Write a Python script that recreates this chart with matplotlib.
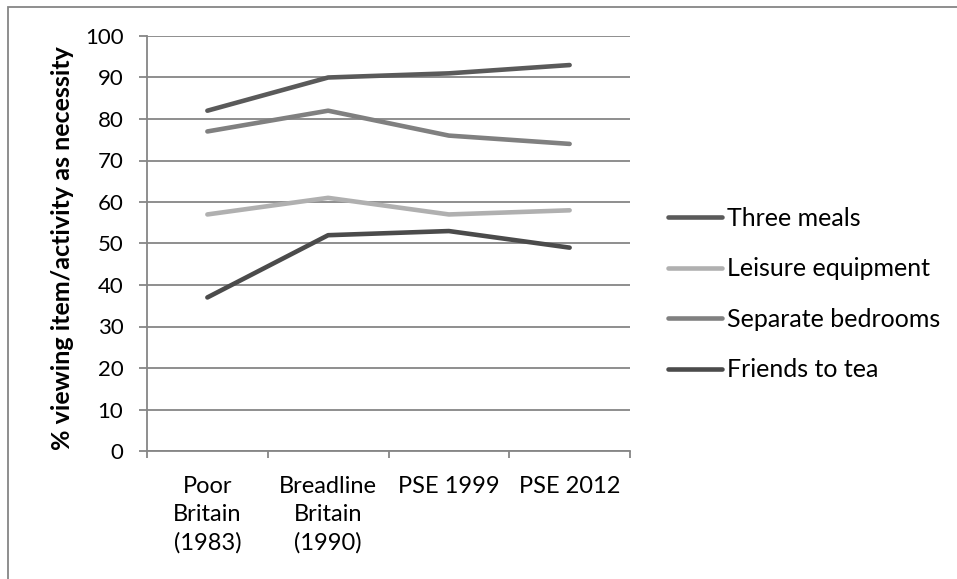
import matplotlib
matplotlib.use("Agg")
import matplotlib.pyplot as plt
from matplotlib.patches import Rectangle

plt.rcParams['font.family'] = ['Lato', 'DejaVu Sans']

# datos
categorias = ["Poor\nBritain\n(1983)", "Breadline\nBritain\n(1990)", "PSE 1999", "PSE 2012"]
tres_comidas = [82, 90, 91, 93]
ocio = [57, 61, 57, 58]
dormitorios = [77, 82, 76, 74]
amigos = [37, 52, 53, 49]

series = [
    ("Three meals", tres_comidas, "#5a5a5a"),
    ("Leisure equipment", ocio, "#b0b0b0"),
    ("Separate bedrooms", dormitorios, "#808080"),
    ("Friends to tea", amigos, "#4b4b4b"),
]

fig = plt.figure(figsize=(9.57, 5.79), dpi=100)
W, H = 957, 579
ax = fig.add_axes([147 / W, 1 - 451 / H, (630 - 147) / W, (451 - 36) / H])

# borde del grafico (solo arriba e izquierda visibles)
fig.patches.append(Rectangle((8 / W, -0.1), 1.2, 1 - 7 / H + 0.1, transform=fig.transFigure,
                             fill=False, edgecolor="#868686", linewidth=1.3))

x = range(len(categorias))
for nombre, valores, color in series:
    ax.plot(x, valores, color=color, linewidth=3.3, solid_capstyle="round",
            solid_joinstyle="round", label=nombre, zorder=3)

ax.set_xlim(-0.5, len(categorias) - 0.5)
ax.set_ylim(0, 100)
ax.set_yticks(range(0, 101, 10))
ax.set_xticks(list(x))
ax.set_xticklabels(categorias, fontsize=17, linespacing=1.4)
ax.set_xticks([i - 0.5 for i in range(len(categorias) + 1)], minor=True)
ax.tick_params(axis="x", which="major", length=0, pad=18)
ax.tick_params(axis="x", which="minor", length=5, color="#868686", width=1.3)
ax.tick_params(axis="y", length=6, color="#868686", width=1.3, labelsize=16, pad=11)

ax.grid(axis="y", color="#868686", linewidth=1.3)
ax.set_axisbelow(True)
for s in ["top", "right"]:
    ax.spines[s].set_visible(False)
for s in ["left", "bottom"]:
    ax.spines[s].set_color("#868686")
    ax.spines[s].set_linewidth(1.3)

ax.set_ylabel("% viewing item/activity as necessity", fontsize=18, fontweight="bold")
ax.yaxis.set_label_coords((74 - 147) / 483, 0.49)

ax.legend(loc="center left", bbox_to_anchor=(668 / W, 1 - 294 / H), bbox_transform=fig.transFigure,
          frameon=False, fontsize=18, handlelength=2.15, handletextpad=0.2, labelspacing=1.1,
          borderaxespad=0, borderpad=0)

fig.savefig("out.png", dpi=100)
